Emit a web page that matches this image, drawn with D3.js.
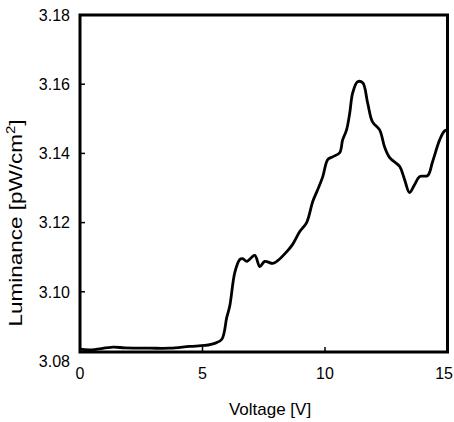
<!DOCTYPE html>
<html>
<head>
<meta charset="utf-8">
<script src="https://cdn.jsdelivr.net/npm/d3@7"></script>
<style>
  body { margin: 0; background: #fff; }
  text { font-family: Arial, "Liberation Sans", sans-serif; fill: #000; }
</style>
</head>
<body>
<script>
// voltage readings [V]
const voltage = [0, 0.41, 1.35, 1.83, 2.85, 3.67, 4.48, 5.10, 5.50, 5.79,
  5.99, 6.11, 6.32, 6.52, 6.64, 6.81, 7.13, 7.34, 7.54, 7.87,
  8.07, 8.44, 8.68, 8.97, 9.25, 9.50, 9.70, 9.91, 10.11, 10.31,
  10.60, 10.72, 10.88, 11.01, 11.13, 11.33, 11.54, 11.74, 11.94, 12.23,
  12.43, 12.64, 13.05, 13.25, 13.45, 13.66, 13.86, 14.19, 14.39, 14.68,
  14.88, 15.0];
// luminance [pW/cm2]
const luminance = [3.0834, 3.0832, 3.0840, 3.0838, 3.0837, 3.0837, 3.0842, 3.0845, 3.0851, 3.0863,
  3.0926, 3.0958, 3.1056, 3.1093, 3.1096, 3.1088, 3.1105, 3.1073, 3.1088, 3.1082,
  3.1090, 3.1116, 3.1137, 3.1174, 3.1200, 3.1261, 3.1295, 3.1333, 3.1382, 3.1390,
  3.1402, 3.1439, 3.1468, 3.1517, 3.1575, 3.1607, 3.1604, 3.1546, 3.1491, 3.1468,
  3.1419, 3.1388, 3.1362, 3.1324, 3.1287, 3.1310, 3.1333, 3.1336, 3.1376, 3.1439,
  3.1465, 3.1468];

const xTicks = [0, 5, 10, 15];
const yTicks = [3.08, 3.10, 3.12, 3.14, 3.16, 3.18];
const yFloor = 3.0826; // where the x axis sits

const data = voltage.map((v, i) => ({ v: v, l: luminance[i] }));

const W = 454, H = 422;
const svg = d3.select('body').append('svg')
  .attr('width', W)
  .attr('height', H);

svg.append('rect').attr('width', W).attr('height', H).attr('fill', '#fff');

// scales
const x = d3.scaleLinear().domain([0, 15]).range([80, 447.5]);
const y = d3.scaleLinear().domain([3.08, 3.18]).range([361, 15]);

const plotL = x(0), plotR = x(15), plotT = y(3.18), plotB = y(yFloor);

// curve
const line = d3.line()
  .x(d => x(d.v))
  .y(d => y(d.l))
  .curve(d3.curveCatmullRom.alpha(0.5));

svg.append('path')
  .datum(data)
  .attr('fill', 'none')
  .attr('stroke', '#000')
  .attr('stroke-width', 2.8)
  .attr('stroke-linejoin', 'round')
  .attr('d', line);

// inward ticks
svg.selectAll('.yt')
  .data(yTicks.filter(t => t > 3.08 && t < 3.18))
  .join('line')
  .attr('x1', plotL).attr('x2', plotL + 5)
  .attr('y1', d => y(d)).attr('y2', d => y(d))
  .attr('stroke', '#000').attr('stroke-width', 1.5);

svg.selectAll('.xt')
  .data(xTicks.filter(t => t > 0 && t < 15))
  .join('line')
  .attr('x1', d => x(d)).attr('x2', d => x(d))
  .attr('y1', plotB).attr('y2', plotB - 5)
  .attr('stroke', '#000').attr('stroke-width', 1.5);

// frame
svg.append('rect')
  .attr('x', plotL).attr('y', plotT)
  .attr('width', plotR - plotL).attr('height', plotB - plotT)
  .attr('fill', 'none')
  .attr('stroke', '#000')
  .attr('stroke-width', 3);

// tick labels
svg.selectAll('.yl')
  .data(yTicks)
  .join('text')
  .attr('x', 70)
  .attr('y', d => y(d))
  .attr('dy', '0.36em')
  .attr('text-anchor', 'end')
  .attr('font-size', 16)
  .text(d => d.toFixed(2));

svg.selectAll('.xl')
  .data(xTicks)
  .join('text')
  .attr('x', d => d === 15 ? W - 1 : x(d))
  .attr('y', 379)
  .attr('text-anchor', d => d === 15 ? 'end' : 'middle')
  .attr('font-size', 16)
  .text(d => d);

// axis titles
svg.append('text')
  .attr('x', 270)
  .attr('y', 415)
  .attr('text-anchor', 'middle')
  .attr('font-size', 17)
  .text('Voltage [V]');

const yt = svg.append('text')
  .attr('transform', 'translate(22,223) rotate(-90) scale(1.25,1)')
  .attr('text-anchor', 'middle')
  .attr('font-size', 18);
yt.append('tspan').text('Luminance [pW/cm');
yt.append('tspan').attr('font-size', 12).attr('dy', -7).text('2');
yt.append('tspan').attr('dy', 7).text(']');
</script>
</body>
</html>
